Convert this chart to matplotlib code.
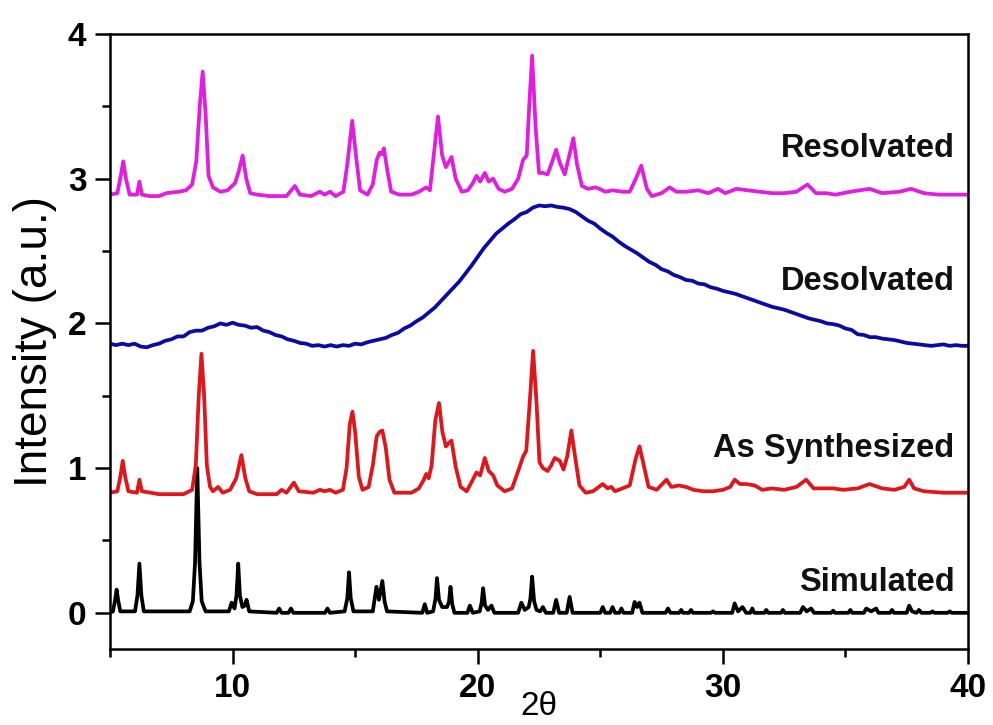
import matplotlib
matplotlib.use('Agg')
import matplotlib.pyplot as plt
from matplotlib.ticker import FixedLocator
import numpy as np

plt.rcParams['font.family'] = ['Liberation Sans', 'DejaVu Sans']

# ---------------- data ----------------
x_ticks = [10, 20, 30, 40]
y_ticks = [0, 1, 2, 3, 4]

# Simulated pattern (black): (2theta, intensity)
simulated = [
    (5.0, 0.0), (5.12, 0.01), (5.2, 0.08), (5.27, 0.16), (5.34, 0.08), (5.42, 0.01), (6.02, 0.01),
    (6.12, 0.12), (6.2, 0.34), (6.28, 0.12), (6.38, 0.01),
    (8.25, 0.01), (8.38, 0.08), (8.47, 0.35), (8.56, 1.0), (8.65, 0.35), (8.74, 0.08), (8.9, 0.01),
    (9.85, 0.01), (9.96, 0.07), (10.08, 0.03), (10.16, 0.12), (10.23, 0.34), (10.3, 0.12),
    (10.4, 0.04), (10.5, 0.05), (10.57, 0.09), (10.68, 0.01), (11.8, 0.0), (11.9, 0.03),
    (12.0, 0.0), (12.28, 0.0), (12.38, 0.03), (12.48, 0.0), (13.77, 0.0), (13.87, 0.03),
    (13.97, 0.0), (14.57, 0.01), (14.68, 0.1), (14.75, 0.28), (14.82, 0.1), (14.93, 0.01),
    (15.72, 0.01), (15.87, 0.18), (15.97, 0.09), (16.11, 0.22), (16.2, 0.08), (16.3, 0.01),
    (17.74, 0.0), (17.84, 0.06), (17.94, 0.0), (18.18, 0.01), (18.28, 0.1), (18.34, 0.24),
    (18.42, 0.09), (18.55, 0.04), (18.75, 0.04), (18.83, 0.08), (18.89, 0.18), (18.96, 0.06),
    (19.05, 0.0), (19.58, 0.0), (19.68, 0.05), (19.8, 0.0), (20.08, 0.01), (20.16, 0.07),
    (20.22, 0.17), (20.3, 0.05), (20.42, 0.02), (20.56, 0.05), (20.68, 0.0), (21.65, 0.0),
    (21.78, 0.07), (21.92, 0.02), (22.08, 0.04), (22.15, 0.1), (22.22, 0.25), (22.3, 0.08),
    (22.4, 0.02), (22.55, 0.01), (22.66, 0.04), (22.78, 0.0), (23.08, 0.0), (23.2, 0.09),
    (23.32, 0.0), (23.63, 0.0), (23.75, 0.11), (23.87, 0.0),
    (25.0, 0.0), (25.1, 0.04), (25.2, 0.0), (25.4, 0.0), (25.5, 0.04), (25.6, 0.0),
    (25.78, 0.0), (25.86, 0.03), (25.95, 0.0), (26.3, 0.0), (26.4, 0.075), (26.5, 0.04),
    (26.6, 0.07), (26.72, 0.0), (27.66, 0.0), (27.76, 0.03), (27.86, 0.0),
    (28.22, 0.0), (28.3, 0.02), (28.38, 0.0), (28.62, 0.0), (28.7, 0.02), (28.78, 0.0),
    (29.52, 0.0), (29.6, 0.01), (29.68, 0.0), (30.38, 0.0), (30.48, 0.065), (30.62, 0.01),
    (30.8, 0.04), (30.95, 0.0), (31.12, 0.0), (31.2, 0.03), (31.28, 0.0), (31.7, 0.0),
    (31.77, 0.02), (31.85, 0.0), (32.37, 0.0), (32.45, 0.02), (32.53, 0.0),
    (33.15, 0.0), (33.27, 0.04), (33.42, 0.01), (33.6, 0.03), (33.72, 0.0),
    (34.42, 0.0), (34.5, 0.015), (34.58, 0.0), (35.12, 0.0), (35.2, 0.02), (35.28, 0.0),
    (35.75, 0.0), (35.85, 0.03), (36.05, 0.01), (36.25, 0.03), (36.35, 0.0),
    (36.82, 0.0), (36.9, 0.02), (36.98, 0.0), (37.5, 0.0), (37.6, 0.05), (37.72, 0.01),
    (37.9, 0.0), (38.0, 0.02), (38.1, 0.0), (38.47, 0.0), (38.55, 0.01), (38.63, 0.0),
    (39.17, 0.0), (39.25, 0.01), (39.33, 0.0), (40.0, 0.0),
]

# As synthesized pattern (red)
as_synthesized = [
    (5.0, 0.83), (5.3, 0.84), (5.42, 0.94), (5.52, 1.05), (5.62, 0.94), (5.75, 0.84),
    (6.1, 0.83), (6.2, 0.92), (6.3, 0.84), (7.0, 0.82), (8.0, 0.82), (8.35, 0.85),
    (8.5, 1.02), (8.62, 1.5), (8.73, 1.79), (8.84, 1.5), (8.95, 1.02), (9.08, 0.87),
    (9.2, 0.84), (9.41, 0.87), (9.6, 0.83), (9.9, 0.85), (10.15, 0.93), (10.36, 1.09),
    (10.52, 0.93), (10.68, 0.84), (11.0, 0.82), (11.8, 0.82), (12.0, 0.85), (12.2, 0.83),
    (12.5, 0.90), (12.7, 0.84), (13.3, 0.83), (13.56, 0.85), (13.75, 0.84), (13.97, 0.85),
    (14.2, 0.83), (14.5, 0.85), (14.65, 1.0), (14.78, 1.3), (14.89, 1.39), (15.0, 1.25),
    (15.15, 0.94), (15.3, 0.85), (15.55, 0.87), (15.72, 1.02), (15.88, 1.22), (16.0, 1.25),
    (16.11, 1.26), (16.25, 1.14), (16.4, 0.92), (16.6, 0.83), (17.3, 0.83), (17.6, 0.86),
    (17.8, 0.92), (17.9, 0.96), (18.0, 0.93), (18.12, 1.02), (18.27, 1.33), (18.42, 1.45),
    (18.56, 1.25), (18.7, 1.15), (18.8, 1.17), (18.93, 1.19), (19.1, 1.01), (19.3, 0.87),
    (19.55, 0.84), (19.8, 0.92), (19.95, 0.97), (20.1, 0.95), (20.29, 1.07), (20.45, 0.98),
    (20.63, 0.95), (20.8, 0.88), (21.1, 0.84), (21.4, 0.86), (21.65, 0.98), (21.85, 1.08),
    (21.98, 1.12), (22.12, 1.45), (22.26, 1.81), (22.4, 1.45), (22.52, 1.04), (22.66, 1.0),
    (22.85, 0.98), (23.0, 1.02), (23.14, 1.07), (23.25, 1.06), (23.35, 1.05), (23.5, 0.99),
    (23.65, 1.08), (23.82, 1.26), (23.97, 1.08), (24.15, 0.88), (24.4, 0.83), (24.7, 0.84),
    (25.1, 0.89), (25.3, 0.86), (25.45, 0.87), (25.6, 0.84), (26.2, 0.88), (26.45, 1.07),
    (26.6, 1.15), (26.77, 1.02), (26.97, 0.87), (27.3, 0.85), (27.7, 0.92), (27.9, 0.87),
    (28.2, 0.88), (28.5, 0.87), (28.8, 0.85), (29.2, 0.84), (29.6, 0.84), (30.0, 0.85),
    (30.3, 0.87), (30.48, 0.92), (30.7, 0.89), (30.95, 0.89), (31.3, 0.88), (31.6, 0.85),
    (32.0, 0.86), (32.5, 0.85), (33.0, 0.87), (33.4, 0.92), (33.7, 0.86), (34.1, 0.86),
    (34.5, 0.86), (34.9, 0.85), (35.5, 0.86), (35.98, 0.89), (36.5, 0.86), (37.0, 0.85),
    (37.4, 0.87), (37.6, 0.92), (37.8, 0.86), (38.2, 0.84), (39.0, 0.83), (40.0, 0.83),
]

# Desolvated pattern (blue): intensities on a 0.25 degree grid from 5 to 40
desolvated_y = [
    1.86, 1.85, 1.86, 1.85,
    1.86, 1.84, 1.835, 1.85,
    1.86, 1.88, 1.89, 1.91,
    1.91, 1.94, 1.95, 1.95,
    1.97, 1.98, 2.00, 1.99,
    2.005, 1.99, 1.985, 1.97,
    1.975, 1.95, 1.94, 1.92,
    1.91, 1.89, 1.88, 1.865,
    1.86, 1.845, 1.85, 1.84,
    1.85, 1.84, 1.85, 1.845,
    1.86, 1.855, 1.87, 1.88,
    1.89, 1.90, 1.92, 1.935,
    1.965, 1.985, 2.015, 2.04,
    2.075, 2.11, 2.155, 2.20,
    2.245, 2.29, 2.345, 2.40,
    2.46, 2.52, 2.57, 2.62,
    2.655, 2.69, 2.72, 2.755,
    2.77, 2.80, 2.815, 2.81,
    2.815, 2.805, 2.80, 2.79,
    2.77, 2.74, 2.71, 2.69,
    2.655, 2.625, 2.60, 2.565,
    2.535, 2.51, 2.485, 2.455,
    2.425, 2.405, 2.375, 2.36,
    2.335, 2.32, 2.30, 2.295,
    2.275, 2.27, 2.25, 2.24,
    2.225, 2.215, 2.205, 2.19,
    2.175, 2.16, 2.145, 2.13,
    2.115, 2.105, 2.095, 2.08,
    2.065, 2.05, 2.035, 2.025,
    2.015, 2.00, 1.995, 1.985,
    1.965, 1.955, 1.925, 1.92,
    1.905, 1.905, 1.895, 1.89,
    1.885, 1.875, 1.865, 1.86,
    1.855, 1.85, 1.845, 1.85,
    1.855, 1.845, 1.85, 1.845,
    1.845,
]
desolvated_x = np.arange(len(desolvated_y)) * 0.25 + 5.0

# Resolvated pattern (magenta)
resolvated = [
    (5.0, 2.89), (5.3, 2.90), (5.45, 3.03), (5.54, 3.12), (5.65, 3.0), (5.8, 2.89),
    (6.1, 2.89), (6.2, 2.98), (6.3, 2.89), (6.6, 2.88), (7.0, 2.88), (7.3, 2.90),
    (7.8, 2.91), (8.1, 2.92), (8.35, 2.96), (8.52, 3.12), (8.66, 3.5), (8.78, 3.74),
    (8.9, 3.45), (9.02, 3.02), (9.2, 2.94), (9.5, 2.91), (9.8, 2.92), (10.1, 2.97),
    (10.25, 3.05), (10.41, 3.16), (10.56, 3.0), (10.72, 2.90), (11.0, 2.89), (11.5, 2.88),
    (12.2, 2.88), (12.54, 2.95), (12.75, 2.89), (13.2, 2.88), (13.56, 2.91), (13.75, 2.89),
    (13.97, 2.91), (14.2, 2.88), (14.52, 2.91), (14.68, 3.1), (14.88, 3.40), (15.04, 3.15),
    (15.2, 2.92), (15.5, 2.89), (15.72, 2.96), (15.88, 3.13), (16.0, 3.18), (16.1, 3.17),
    (16.17, 3.21), (16.32, 3.05), (16.47, 2.91), (16.8, 2.89), (17.3, 2.89), (17.6, 2.91),
    (17.8, 2.93), (17.9, 2.94), (18.05, 2.92), (18.2, 3.15), (18.38, 3.43), (18.55, 3.16),
    (18.7, 3.08), (18.8, 3.11), (18.93, 3.15), (19.1, 3.0), (19.35, 2.91), (19.6, 2.92),
    (19.8, 2.97), (19.95, 3.02), (20.1, 2.98), (20.29, 3.04), (20.45, 2.98), (20.63, 3.0),
    (20.85, 2.93), (21.1, 2.91), (21.4, 2.93), (21.65, 3.0), (21.85, 3.13), (22.0, 3.16),
    (22.1, 3.5), (22.22, 3.85), (22.36, 3.36), (22.5, 3.04), (22.65, 3.04), (22.85, 3.03),
    (23.0, 3.10), (23.2, 3.20), (23.35, 3.11), (23.55, 3.03), (23.75, 3.17), (23.9, 3.28),
    (24.05, 3.10), (24.25, 2.95), (24.5, 2.93), (24.8, 2.94), (24.97, 2.93), (25.2, 2.91),
    (25.5, 2.92), (25.9, 2.91), (26.2, 2.91), (26.45, 3.0), (26.67, 3.09), (26.9, 2.93),
    (27.1, 2.88), (27.5, 2.90), (27.83, 2.94), (28.1, 2.91), (28.5, 2.91), (29.0, 2.92),
    (29.4, 2.90), (29.8, 2.93), (30.1, 2.90), (30.55, 2.93), (31.0, 2.92), (31.5, 2.91),
    (32.0, 2.90), (32.5, 2.90), (33.0, 2.91), (33.45, 2.96), (33.8, 2.90), (34.2, 2.90),
    (34.6, 2.89), (35.2, 2.91), (35.98, 2.93), (36.5, 2.90), (37.2, 2.91), (37.68, 2.93),
    (38.2, 2.90), (38.8, 2.89), (39.5, 2.89), (40.0, 2.89),
]

labels = ["Resolvated", "Desolvated", "As Synthesized", "Simulated"]
label_y = [3.15, 2.23, 1.075, 0.152]

# ---------------- figure ----------------
W, H = 993, 725
fig = plt.figure(figsize=(W / 100, H / 100), dpi=100)
ax = fig.add_axes([110 / W, 1 - 649 / H, (968 - 110) / W, (649 - 34) / H])

lw = 2.7
sx, sy = zip(*simulated)
ax.plot(sx, sy, color='#000000', lw=lw, solid_joinstyle='round')
rx, ry = zip(*as_synthesized)
ax.plot(rx, ry, color='#E0161B', lw=lw, solid_joinstyle='round')
ax.plot(desolvated_x, desolvated_y, color='#0A0AA6', lw=lw, solid_joinstyle='round')
mx, my = zip(*resolvated)
ax.plot(mx, my, color='#E21CE0', lw=lw, solid_joinstyle='round')

for txt, yv in zip(labels, label_y):
    ax.text(39.45, yv, txt, ha='right', va='baseline', fontsize=23.5,
            fontweight='bold', color='#111111')

ax.set_xlim(5, 40)
ax.set_ylim(-0.25, 4)
ax.xaxis.set_major_locator(FixedLocator(x_ticks))
ax.xaxis.set_minor_locator(FixedLocator([5, 15, 25, 35]))
ax.yaxis.set_major_locator(FixedLocator(y_ticks))
ax.yaxis.set_minor_locator(FixedLocator([0.5, 1.5, 2.5, 3.5]))

for sp in ax.spines.values():
    sp.set_linewidth(1.8)
ax.tick_params(which='both', direction='out', top=False, right=False, width=1.8)
ax.tick_params(which='major', length=11, labelsize=24, pad=6)
ax.tick_params(which='minor', length=6)
for lab in ax.get_xticklabels() + ax.get_yticklabels():
    lab.set_fontweight('bold')

ax.set_ylabel('Intensity (a.u.)', fontsize=33, labelpad=8)
ax.set_xlabel('2θ', fontsize=24, labelpad=-9)

fig.savefig('out.png', dpi=100)
